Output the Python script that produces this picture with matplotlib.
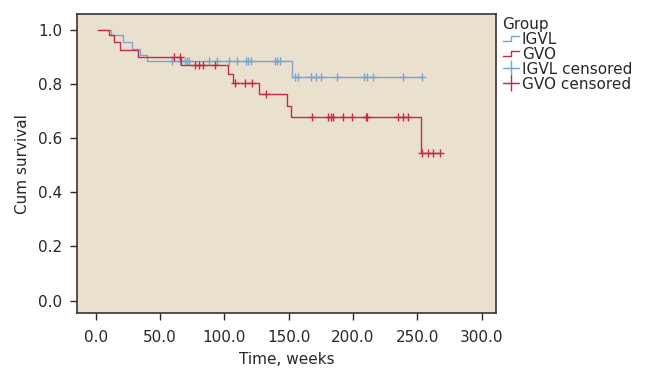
import numpy as np
import matplotlib
matplotlib.use("Agg")
import matplotlib.pyplot as plt
from matplotlib.lines import Line2D
from matplotlib.legend_handler import HandlerBase

plt.rcParams['font.family'] = ['DejaVu Sans']

# ---- data (weeks, cumulative survival) ----
igvl_times = [1.5, 11.9, 21.0, 28.0, 34.4, 39.6, 152.5]
igvl_surv = [1.0, 0.982, 0.953, 0.927, 0.908, 0.886, 0.824]
igvl_end = 254.6
igvl_censored = [59.0, 65.5, 69.4, 70.7, 72.5, 88.3, 94.0, 103.8, 109.6, 116.8,
                 118.6, 120.5, 139.4, 141.2, 143.0, 154.8, 157.5, 167.1, 171.2,
                 174.9, 187.3, 208.8, 210.6, 215.3, 238.6, 253.4]

gvo_times = [1.5, 10.6, 14.5, 18.9, 32.6, 66.3, 102.6, 106.5, 127.2, 148.8, 151.8, 253.0]
gvo_surv = [1.0, 0.981, 0.953, 0.924, 0.900, 0.869, 0.836, 0.804, 0.764, 0.720, 0.676, 0.543]
gvo_end = 268.0
gvo_censored = [61.0, 65.8, 77.3, 80.5, 83.6, 92.7, 108.3, 116.0, 121.3, 132.4,
                167.9, 180.8, 182.7, 184.2, 192.0, 199.0, 209.9, 211.1, 235.2,
                239.1, 243.0, 253.4, 258.5, 262.4, 268.0]

x_ticks = [0, 50, 100, 150, 200, 250, 300]
y_ticks = [0.0, 0.2, 0.4, 0.6, 0.8, 1.0]

BLUE = '#7AA5D3'
RED = '#C62A47'
BG = '#E9E1CE'
TXT = '#2B2623'
FS = 11


class StepHandler(HandlerBase):
    """Draws the small step icon used in the legend."""
    def create_artists(self, legend, orig_handle, xdescent, ydescent,
                       width, height, fontsize, trans):
        x0 = -xdescent
        x1 = -xdescent + width * 0.5
        x2 = -xdescent + width
        y0 = -ydescent + height * 0.25
        y1 = -ydescent + height * 0.7
        line = Line2D([x0, x1, x1, x2], [y0, y0, y1, y1],
                      color=orig_handle.get_color(), lw=1.0)
        line.set_transform(trans)
        return [line]


def level_at(times, surv, t):
    idx = np.searchsorted(times, t, side='right') - 1
    return np.asarray(surv)[idx]


def main() -> None:
    fig = plt.figure(figsize=(6.51, 3.71), dpi=100)
    ax = fig.add_axes([0.118, 0.156, 0.644, 0.805])
    ax.set_facecolor(BG)

    for times, surv, end, cens, col in [
        (igvl_times, igvl_surv, igvl_end, igvl_censored, BLUE),
        (gvo_times, gvo_surv, gvo_end, gvo_censored, RED),
    ]:
        xs = list(times) + [end]
        ys = list(surv) + [surv[-1]]
        ax.step(xs, ys, where='post', color=col, lw=1.0)
        ax.plot(cens, level_at(times, surv, cens), linestyle='none',
                marker='+', color=col, markersize=6, markeredgewidth=1.0)

    ax.set_xlim(-14.7, 311.2)
    ax.set_ylim(-0.046, 1.056)
    ax.set_xticks(x_ticks)
    ax.set_xticklabels([f"{v:.1f}" for v in x_ticks])
    ax.set_yticks(y_ticks)
    ax.set_yticklabels([f"{v:.1f}" for v in y_ticks])
    ax.tick_params(direction='out', length=5, width=1.0, colors=TXT,
                   labelsize=FS)
    ax.tick_params(axis='y', pad=5.5)
    ax.tick_params(axis='x', pad=7.5)
    for sp in ax.spines.values():
        sp.set_color('#3A332E')
        sp.set_linewidth(1.2)

    ax.set_xlabel("Time, weeks", fontsize=FS, color=TXT, labelpad=5)
    ax.set_ylabel("Cum survival", fontsize=FS, color=TXT, labelpad=6)

    handles = [
        Line2D([], [], color=BLUE),
        Line2D([], [], color=RED),
        Line2D([], [], color=BLUE, marker='+', markersize=11, lw=0.8),
        Line2D([], [], color=RED, marker='+', markersize=11, lw=0.8),
    ]
    labels = ["IGVL", "GVO", "IGVL censored", "GVO censored"]
    leg = fig.legend(handles, labels, title="Group", loc='upper left',
                     bbox_to_anchor=(0.772, 0.955), frameon=False,
                     fontsize=FS, title_fontsize=FS, handlelength=1.1,
                     handletextpad=0.15, labelspacing=0.0, borderpad=0.0,
                     borderaxespad=0.0, numpoints=1, alignment='left',
                     handler_map={handles[0]: StepHandler(),
                                  handles[1]: StepHandler()})
    for t in leg.get_texts():
        t.set_color(TXT)
    leg.get_title().set_color(TXT)

    fig.savefig("out.png", dpi=100, facecolor='white')


if __name__ == "__main__":
    main()
